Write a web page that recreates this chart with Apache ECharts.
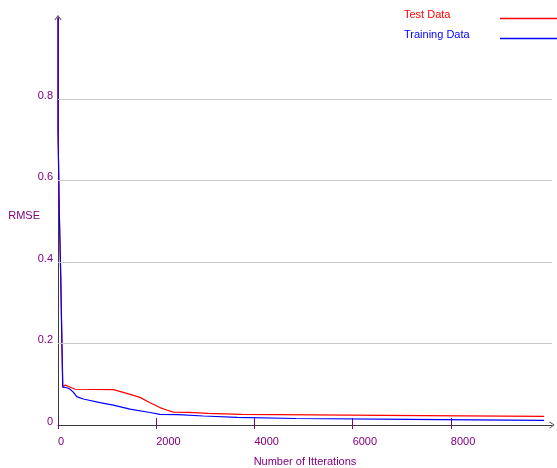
<!DOCTYPE html>
<html>
<head>
<meta charset="utf-8">
<script src="https://cdn.jsdelivr.net/npm/echarts@6/dist/echarts.min.js"></script>
<style>
  html, body { margin: 0; padding: 0; background: #ffffff; }
  #chart { width: 557px; height: 468px; }
</style>
</head>
<body>
<div id="chart"></div>
<script>
// Learning curves: RMSE versus training iterations
const iterTicks = [0, 2000, 4000, 6000, 8000];
const rmseTicks = [0, 0.2, 0.4, 0.6, 0.8];

const seriesNames = ['Test Data', 'Training Data'];

// Test-set error (stepped where the recorded value holds between evaluations)
const testIter = [0, 0, 26, 26, 57, 57, 84, 84, 98, 150, 180, 250, 350, 1130, 1400, 1670, 1873, 2077, 2213, 2350, 2655, 2655, 3060, 3060, 3740, 3740, 6640, 6640, 9900];
const testRmse = [1.0, 0.728, 0.728, 0.524, 0.524, 0.364, 0.364, 0.185, 0.095, 0.098, 0.098, 0.093, 0.088, 0.087, 0.078, 0.068, 0.055, 0.043, 0.037, 0.032, 0.031, 0.029, 0.029, 0.0265, 0.0265, 0.024, 0.024, 0.0216, 0.0216];

// Training-set error
const trainIter = [0, 0, 26, 26, 55, 55, 81, 81, 96, 200, 244, 312, 381, 515, 855, 1126, 1466, 1873, 2077, 2450, 2450, 2960, 2960, 3650, 3650, 4845, 4845, 7130, 7130, 9900];
const trainRmse = [1.0, 0.728, 0.728, 0.524, 0.524, 0.364, 0.364, 0.185, 0.093, 0.091, 0.088, 0.081, 0.070, 0.064, 0.055, 0.049, 0.039, 0.031, 0.0262, 0.0255, 0.0223, 0.0223, 0.019, 0.019, 0.0162, 0.0162, 0.0142, 0.0142, 0.0118, 0.0118];

const zip = (xs, ys) => xs.map((x, i) => [x, ys[i]]);

const FONT = '"Liberation Sans", Arial, sans-serif';
const PURPLE = '#800080';
const AXIS = '#3c3c3c';
const GRID = '#c8c8c8';
const RED = '#ff0000';
const BLUE = '#0000ff';
const chevron = 'path://M0,7L5,0L10,7L9,7.6L5,1.8L1,7.6Z';

const chart = echarts.init(document.getElementById('chart'), null, { renderer: 'canvas' });

chart.setOption({
  animation: false,
  backgroundColor: '#ffffff',
  textStyle: { fontFamily: FONT },
  grid: { left: 58, right: 5, top: 17.6, bottom: 42.9, containLabel: false, outerBoundsMode: 'none' },
  legend: {
    orient: 'vertical',
    right: 0,
    top: 9,
    padding: 0,
    align: 'right',
    itemWidth: 57,
    itemHeight: 1.5,
    itemGap: 1,
    icon: 'rect',
    data: seriesNames,
    formatter: n => (n === 'Test Data' ? '{t|' + n + '}' : '{b|' + n + '}'),
    textStyle: {
      fontFamily: FONT,
      fontSize: 11,
      rich: {
        t: { color: RED, width: 91, align: 'left', fontSize: 11, fontFamily: FONT, padding: [0, 0, 8, 0], lineHeight: 12 },
        b: { color: BLUE, width: 91, align: 'left', fontSize: 11, fontFamily: FONT, padding: [0, 0, 8, 0], lineHeight: 12 }
      }
    }
  },
  xAxis: [
    {
      type: 'value',
      min: 0,
      max: 10060,
      name: 'Number of Itterations',
      nameLocation: 'middle',
      nameGap: 31,
      nameMoveOverlap: false,
      nameTextStyle: { color: PURPLE, fontSize: 11, fontFamily: FONT },
      axisLine: { show: true, lineStyle: { color: AXIS, width: 1 }, symbol: ['none', chevron], symbolSize: [7, 6] },
      axisTick: { show: true, inside: true, length: 7, lineStyle: { color: PURPLE, width: 1 }, customValues: iterTicks },
      axisLabel: {
        color: PURPLE, fontSize: 11, fontFamily: FONT, align: 'left', margin: 11,
        customValues: iterTicks,
        formatter: v => String(v)
      },
      splitLine: { show: false }
    },
    {
      type: 'value',
      min: 0,
      max: 10060,
      position: 'bottom',
      axisLine: { show: false },
      axisTick: { show: true, inside: false, length: 4, lineStyle: { color: PURPLE, width: 1 }, customValues: iterTicks },
      axisLabel: { show: false },
      splitLine: { show: false }
    }
  ],
  yAxis: {
    type: 'value',
    min: 0,
    max: 1.0,
    name: 'RMSE',
    nameLocation: 'middle',
    nameRotate: 0,
    nameGap: 18,
    nameMoveOverlap: false,
    nameTextStyle: { color: PURPLE, fontSize: 11, fontFamily: FONT, verticalAlign: 'bottom' },
    axisLine: { show: true, lineStyle: { color: AXIS, width: 1 }, symbol: ['none', chevron], symbolSize: [7, 6] },
    axisTick: { show: false },
    axisLabel: {
      margin: 5,
      customValues: rmseTicks,
      formatter: v => '{v|' + String(v) + '}',
      rich: {
        v: { color: PURPLE, fontSize: 11, fontFamily: FONT, padding: [0, 0, 7, 0] }
      }
    },
    splitLine: { show: false }
  },
  series: [
    {
      name: seriesNames[0],
      type: 'line',
      data: zip(testIter, testRmse),
      showSymbol: false,
      color: RED,
      lineStyle: { color: RED, width: 1.2 },
      markLine: {
        silent: true,
        symbol: 'none',
        label: { show: false },
        lineStyle: { color: GRID, type: 'solid', width: 1 },
        data: rmseTicks.filter(v => v > 0).map(v => ({ yAxis: v }))
      }
    },
    {
      name: seriesNames[1],
      type: 'line',
      data: zip(trainIter, trainRmse),
      showSymbol: false,
      color: BLUE,
      lineStyle: { color: BLUE, width: 1.2 }
    }
  ]
});
</script>
</body>
</html>
